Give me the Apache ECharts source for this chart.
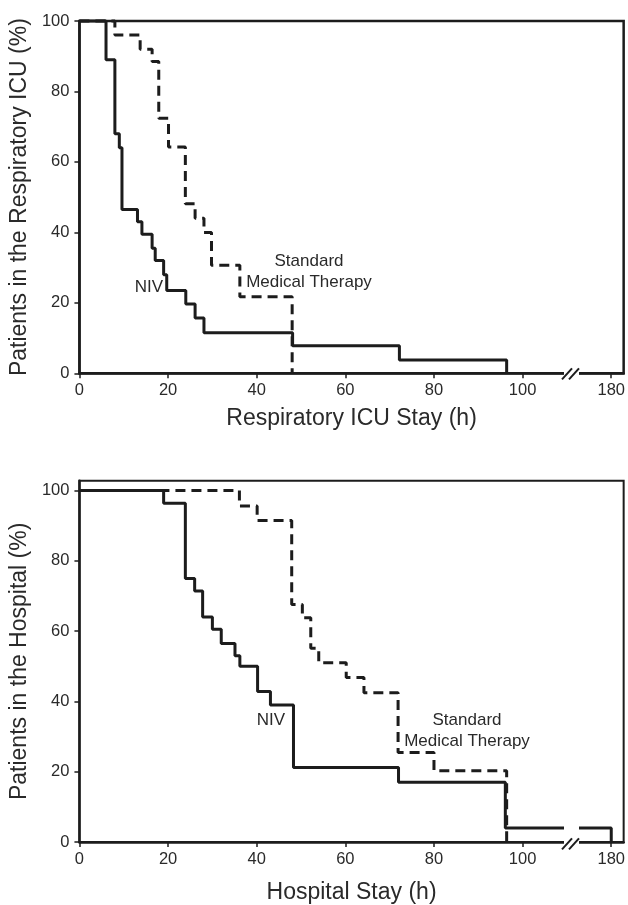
<!DOCTYPE html>
<html>
<head>
<meta charset="utf-8">
<script src="https://cdn.jsdelivr.net/npm/echarts@6/dist/echarts.min.js"></script>
<style>
html, body { margin: 0; padding: 0; background: #fff; }
#chart { width: 628px; height: 905px; }
</style>
</head>
<body>
<div id="chart"></div>
<script>
// respiratory ICU stay (h) vs % still in the ICU
var icuNivHours = [0, 6, 8, 9, 9.6, 13.1, 14.1, 16.4, 17.1, 19, 19.7, 24, 26.1, 28.1, 48.1, 72.2, 96.4];
var icuNivPct = [100, 89, 68, 64, 46.5, 43, 39.5, 35.5, 32, 28, 23.5, 19.7, 15.7, 11.5, 7.8, 3.8, 0];
var icuSmtHours = [0, 8, 13.7, 16.4, 17.9, 20.1, 23.9, 26.1, 28.1, 29.8, 36.2, 48];
var icuSmtPct = [100, 96, 92, 88.5, 72.4, 64.2, 48.1, 44, 40, 30.7, 21.7, 0];

// hospital stay (h) vs % still in hospital
var hospNivHours = [0, 19, 23.9, 26, 27.8, 30, 32, 35.1, 36.2, 40.2, 43.1, 48.3, 72, 96.1, 180];
var hospNivPct = [100, 96.4, 75, 71.4, 64, 60.5, 56.5, 53, 50, 42.8, 39, 21.2, 17, 4, 0];
var hospSmtHours = [0, 36.1, 40.1, 47.9, 50.3, 52.2, 54, 60.2, 64.2, 71.9, 80, 96.4];
var hospSmtPct = [100, 95.6, 91.5, 67.6, 63.8, 55.1, 51, 46.8, 42.5, 25.5, 20.3, 0];

var xTicks = [0, 20, 40, 60, 80, 100, 180];
var yTicks = [0, 20, 40, 60, 80, 100];

var ink = '#1c1c1c';
var txt = '#2a2a2a';
var fontFam = '"Liberation Sans", Arial, sans-serif';

// the x axis is broken between ~110 and ~170 h
function brk(h) { return h > 110 ? h - 60 : h; }
function unbrk(v) { return v > 110 ? v + 60 : v; }

function pairs(xs, ys) {
    return xs.map(function (x, i) { return [brk(x), ys[i]]; });
}

var xTickPos = xTicks.map(brk);

function xAxisFor(idx, name, gap) {
    return {
        type: 'value', gridIndex: idx, min: 0, max: 122.8,
        name: name, nameLocation: 'middle', nameGap: gap,
        nameTextStyle: { fontSize: 23, color: txt, fontFamily: fontFam },
        axisLine: { show: true, lineStyle: { color: ink, width: 2.5 } },
        axisTick: { show: true, length: 5, customValues: xTickPos, lineStyle: { color: ink, width: 1.5 } },
        axisLabel: {
            customValues: xTickPos, margin: 9, fontSize: 16.5, color: txt, fontFamily: fontFam,
            formatter: function (v) { return String(unbrk(v)); }
        },
        splitLine: { show: false }
    };
}

function yAxisFor(idx, name, max) {
    return {
        type: 'value', gridIndex: idx, min: 0, max: max,
        name: name, nameLocation: 'middle', nameGap: 40, nameRotate: 90,
        nameTextStyle: { fontSize: 23, color: txt, fontFamily: fontFam },
        axisLine: { show: true, lineStyle: { color: ink, width: 2.5 } },
        axisTick: { show: true, length: 5, customValues: yTicks, lineStyle: { color: ink, width: 1.5 } },
        axisLabel: { customValues: yTicks, margin: 10, fontSize: 16.5, color: txt, fontFamily: fontFam },
        splitLine: { show: false }
    };
}

function curve(idx, data, dashed) {
    return {
        type: 'line', xAxisIndex: idx, yAxisIndex: idx, step: 'end',
        data: data, symbol: 'none', clip: false, animation: false,
        lineStyle: { color: ink, width: 3, type: dashed ? [10, 6] : 'solid' }
    };
}

function breakMarks(axisY, coverTop) {
    return [
        { type: 'rect', z: 100, shape: { x: 564, y: coverTop, width: 15, height: axisY + 4 - coverTop }, style: { fill: '#fff' } },
        { type: 'line', z: 101, shape: { x1: 562, y1: axisY + 6, x2: 572, y2: axisY - 5 }, style: { stroke: ink, lineWidth: 2 } },
        { type: 'line', z: 101, shape: { x1: 569, y1: axisY + 6, x2: 579, y2: axisY - 5 }, style: { stroke: ink, lineWidth: 2 } }
    ];
}

function label(x, y, text) {
    return {
        type: 'text', z: 102, x: x, y: y,
        style: {
            text: text, fill: txt, font: '17px ' + fontFam, lineHeight: 21,
            align: 'center', verticalAlign: 'middle', textAlign: 'center', textVerticalAlign: 'middle'
        }
    };
}

var myChart = echarts.init(document.getElementById('chart'), null, { renderer: 'canvas' });

var option = {
    backgroundColor: '#fff',
    animation: false,
    grid: [
        { left: 79, top: 21, width: 545.5, height: 352.3, show: true, borderColor: ink, borderWidth: 2.5, backgroundColor: 'transparent' },
        { left: 79, top: 480.7, width: 545.5, height: 362.6, show: true, borderColor: ink, borderWidth: 2, backgroundColor: 'transparent' }
    ],
    xAxis: [
        xAxisFor(0, 'Respiratory ICU Stay (h)', 34),
        xAxisFor(1, 'Hospital Stay (h)', 39)
    ],
    yAxis: [
        yAxisFor(0, 'Patients in the Respiratory ICU (%)', 100),
        yAxisFor(1, 'Patients in the Hospital (%)', 102.8)
    ],
    series: [
        curve(0, pairs(icuSmtHours, icuSmtPct), true),
        curve(0, pairs(icuNivHours, icuNivPct), false),
        curve(1, pairs(hospSmtHours, hospSmtPct), true),
        curve(1, pairs(hospNivHours, hospNivPct), false)
    ],
    graphic: [].concat(
        breakMarks(373.3, 369),
        breakMarks(843.3, 825),
        [
            label(149, 287, 'NIV'),
            label(309, 271.5, 'Standard\nMedical Therapy'),
            label(271, 720, 'NIV'),
            label(467, 731, 'Standard\nMedical Therapy')
        ]
    )
};

myChart.setOption(option);
</script>
</body>
</html>
